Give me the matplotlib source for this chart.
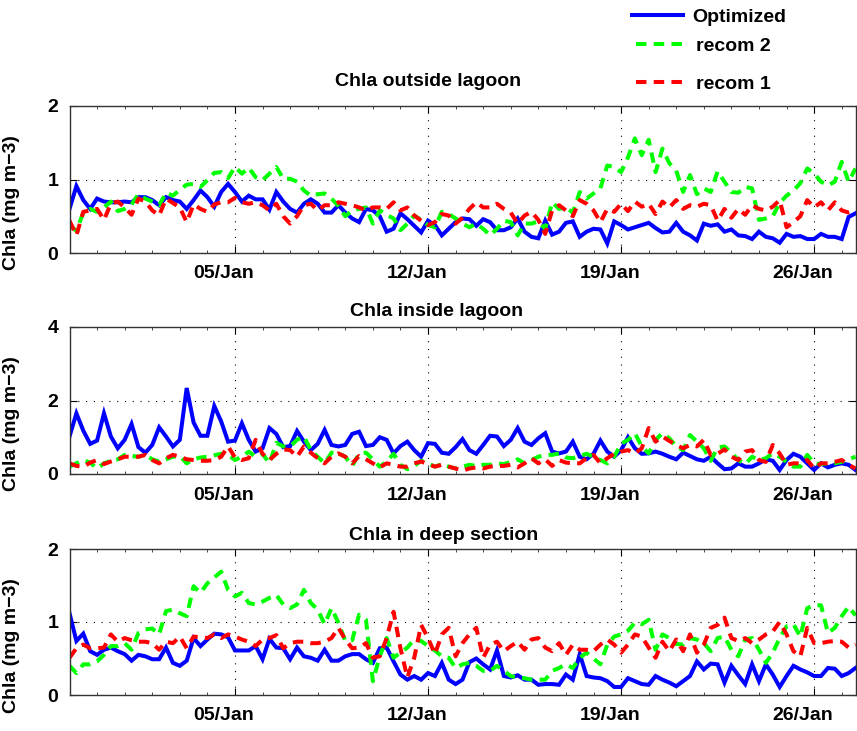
import matplotlib
matplotlib.use('Agg')

import matplotlib.pyplot as plt
import matplotlib.dates as mdates
import matplotlib.transforms as mtransforms
import pandas as pd

# 6-hourly model output, 30/Dec to 27/Jan
times = pd.date_range("2013-12-30", periods=115, freq="6h")

# ---- Chla outside lagoon ----
outside_opt = [0.60, 0.91, 0.72, 0.60, 0.74, 0.70, 0.69, 0.69, 0.70, 0.69,
               0.76, 0.76, 0.72, 0.65, 0.76, 0.72, 0.70, 0.60, 0.72, 0.85,
               0.76, 0.63, 0.83, 0.94, 0.83, 0.70, 0.78, 0.73, 0.73, 0.59,
               0.83, 0.70, 0.60, 0.55, 0.67, 0.73, 0.67, 0.55, 0.55, 0.65,
               0.55, 0.47, 0.42, 0.60, 0.58, 0.50, 0.29, 0.33, 0.54, 0.46,
               0.37, 0.28, 0.44, 0.38, 0.24, 0.33, 0.42,
               0.47, 0.46, 0.37, 0.46, 0.42, 0.31, 0.31, 0.35, 0.47, 0.29,
               0.22, 0.20, 0.44, 0.25, 0.29, 0.41, 0.43, 0.22, 0.29, 0.33,
               0.32, 0.13, 0.43, 0.38, 0.32, 0.35, 0.38, 0.41, 0.34, 0.28,
               0.29, 0.41, 0.29, 0.24, 0.17, 0.40, 0.37, 0.39, 0.29, 0.32,
               0.24, 0.23, 0.19, 0.29, 0.22, 0.20, 0.14, 0.26, 0.22, 0.23,
               0.19, 0.19, 0.26, 0.22, 0.22, 0.19, 0.49, 0.54]
outside_rec2 = [0.38, 0.30, 0.55, 0.60, 0.56, 0.62, 0.70, 0.57, 0.60, 0.66,
                0.80, 0.74, 0.70, 0.65, 0.82, 0.78, 0.86, 0.93, 0.94, 0.90,
                0.99, 1.09, 1.10, 1.02, 1.17, 1.08, 1.16, 1.03, 0.99, 1.08,
                1.17, 1.01, 1.01, 0.97, 0.85, 0.78, 0.80, 0.81, 0.74, 0.64,
                0.50, 0.58, 0.60, 0.62, 0.40, 0.58, 0.52, 0.47, 0.31, 0.40,
                0.51, 0.45, 0.38, 0.35, 0.56, 0.53, 0.47,
                0.40, 0.35, 0.40, 0.33, 0.24, 0.33, 0.44, 0.42, 0.24, 0.40,
                0.40, 0.43, 0.33, 0.69, 0.60, 0.62, 0.55, 0.83, 0.74, 0.81,
                0.88, 1.19, 1.17, 1.10, 1.30, 1.56, 1.33, 1.54, 1.10, 1.42,
                1.22, 1.12, 0.83, 1.06, 0.80, 0.88, 0.83, 1.11, 0.97, 0.83,
                0.82, 0.90, 0.88, 0.45, 0.47, 0.50, 0.68, 0.78, 0.85, 0.95,
                1.15, 1.08, 0.97, 0.92, 0.97, 1.24, 0.97, 1.15]
outside_rec1 = [0.44, 0.24, 0.56, 0.58, 0.60, 0.45, 0.67, 0.70, 0.62, 0.52,
                0.74, 0.70, 0.58, 0.51, 0.74, 0.68, 0.62, 0.42, 0.66, 0.60,
                0.56, 0.66, 0.69, 0.69, 0.75, 0.69, 0.67, 0.69, 0.65, 0.58,
                0.67, 0.50, 0.40, 0.50, 0.65, 0.67, 0.58, 0.65, 0.65, 0.69,
                0.67, 0.65, 0.62, 0.58, 0.62, 0.62, 0.60, 0.69, 0.58, 0.62,
                0.51, 0.44, 0.38, 0.42, 0.53, 0.51, 0.40,
                0.48, 0.60, 0.69, 0.62, 0.62, 0.67, 0.60, 0.55, 0.40, 0.51,
                0.56, 0.45, 0.26, 0.58, 0.65, 0.58, 0.50, 0.72, 0.67, 0.58,
                0.42, 0.60, 0.56, 0.67, 0.57, 0.70, 0.63, 0.67, 0.53, 0.70,
                0.62, 0.72, 0.60, 0.65, 0.63, 0.67, 0.65, 0.44, 0.60, 0.48,
                0.60, 0.52, 0.65, 0.60, 0.58, 0.63, 0.72, 0.35, 0.42, 0.50,
                0.72, 0.62, 0.69, 0.58, 0.69, 0.58, 0.55, 0.58]

# ---- Chla inside lagoon ----
inside_opt = [1.02, 1.65, 1.18, 0.82, 0.91, 1.65, 1.02, 0.70, 0.93, 1.36,
              0.73, 0.58, 0.79, 1.27, 1.02, 0.75, 0.93, 2.34, 1.40, 1.04,
              1.04, 1.85, 1.43, 0.88, 0.91, 1.38, 0.93, 0.61, 0.70, 1.25,
              1.09, 0.73, 0.76, 1.17, 0.88, 0.65, 0.82, 1.20, 0.79, 0.75,
              0.79, 1.09, 1.15, 0.76, 0.79, 1.00, 0.93, 0.56, 0.76, 0.88,
              0.65, 0.47, 0.84, 0.82, 0.58, 0.55, 0.73,
              0.95, 0.65, 0.55, 0.79, 1.04, 1.02, 0.76, 0.93, 1.25, 0.88,
              0.79, 0.97, 1.11, 0.61, 0.56, 0.61, 0.88, 0.47, 0.40, 0.55,
              0.91, 0.61, 0.47, 0.65, 1.00, 0.70, 0.55, 0.56, 0.61, 0.55,
              0.47, 0.40, 0.58, 0.49, 0.40, 0.36, 0.47, 0.29, 0.13, 0.15,
              0.29, 0.20, 0.20, 0.29, 0.40, 0.36, 0.11, 0.38, 0.55, 0.47,
              0.29, 0.11, 0.29, 0.18, 0.25, 0.29, 0.25, 0.11]
inside_rec2 = [0.20, 0.29, 0.38, 0.31, 0.15, 0.29, 0.36, 0.40, 0.52, 0.49,
               0.47, 0.52, 0.40, 0.34, 0.40, 0.47, 0.49, 0.29, 0.40, 0.45,
               0.47, 0.51, 0.55, 0.52, 0.38, 0.47, 0.61, 0.47, 0.55, 0.29,
               0.85, 0.75, 0.75, 0.93, 1.02, 0.65, 0.47, 0.29, 0.58, 0.56,
               0.47, 0.22, 0.55, 0.58, 0.40, 0.20, 0.34, 0.55, 0.25, 0.13,
               0.22, 0.36, 0.29, 0.20, 0.27, 0.20, 0.15,
               0.20, 0.25, 0.22, 0.25, 0.25, 0.29, 0.27, 0.33, 0.40, 0.29,
               0.38, 0.47, 0.52, 0.52, 0.56, 0.45, 0.43, 0.49, 0.55, 0.47,
               0.38, 0.29, 0.47, 0.82, 0.93, 1.11, 0.75, 0.56, 0.93, 1.11,
               0.97, 0.75, 0.65, 1.06, 0.88, 0.70, 0.36, 0.72, 0.75, 0.58,
               0.38, 0.27, 0.47, 0.38, 0.43, 0.56, 0.47, 0.33, 0.20, 0.20,
               0.52, 0.29, 0.27, 0.29, 0.29, 0.33, 0.40, 0.47]
inside_rec1 = [0.29, 0.22, 0.20, 0.31, 0.38, 0.27, 0.34, 0.40, 0.47, 0.47,
               0.47, 0.52, 0.38, 0.29, 0.43, 0.52, 0.47, 0.40, 0.38, 0.36,
               0.36, 0.38, 0.47, 0.75, 0.45, 0.38, 0.43, 0.93, 0.55, 0.38,
               0.55, 0.67, 0.65, 0.47, 0.75, 0.58, 0.43, 0.29, 0.47, 0.56,
               0.47, 0.29, 0.49, 0.40, 0.29, 0.18, 0.29, 0.25, 0.20, 0.20,
               0.29, 0.34, 0.27, 0.20, 0.25, 0.20, 0.15,
               0.09, 0.15, 0.18, 0.15, 0.20, 0.22, 0.22, 0.25, 0.18, 0.29,
               0.43, 0.29, 0.40, 0.22, 0.38, 0.31, 0.29, 0.29, 0.43, 0.52,
               0.29, 0.43, 0.55, 0.61, 0.65, 0.56, 0.70, 1.25, 0.88, 1.02,
               0.90, 0.79, 0.70, 0.79, 0.75, 0.93, 0.52, 0.55, 0.67, 0.47,
               0.38, 0.61, 0.65, 0.38, 0.33, 0.79, 0.56, 0.25, 0.29, 0.29,
               0.38, 0.15, 0.29, 0.29, 0.33, 0.38, 0.25, 0.15]

# ---- Chla in deep section ----
deep_opt = [1.12, 0.74, 0.84, 0.60, 0.55, 0.62, 0.65, 0.60, 0.56, 0.47,
            0.55, 0.53, 0.49, 0.49, 0.65, 0.44, 0.40, 0.47, 0.78, 0.67,
            0.76, 0.84, 0.83, 0.79, 0.61, 0.61, 0.61, 0.67, 0.49, 0.77,
            0.65, 0.64, 0.49, 0.65, 0.53, 0.51, 0.47, 0.62, 0.47, 0.47,
            0.53, 0.56, 0.56, 0.49, 0.44, 0.64, 0.65, 0.46, 0.28, 0.21,
            0.26, 0.21, 0.30, 0.26, 0.44, 0.21, 0.15,
            0.21, 0.45, 0.50, 0.42, 0.35, 0.61, 0.26, 0.24, 0.27, 0.21,
            0.21, 0.14, 0.15, 0.15, 0.14, 0.28, 0.21, 0.56, 0.26, 0.24,
            0.23, 0.19, 0.11, 0.11, 0.23, 0.19, 0.15, 0.14, 0.26, 0.21,
            0.17, 0.12, 0.19, 0.26, 0.46, 0.35, 0.43, 0.42, 0.17, 0.40,
            0.27, 0.15, 0.42, 0.19, 0.42, 0.28, 0.11, 0.26, 0.40, 0.35,
            0.31, 0.26, 0.26, 0.37, 0.36, 0.26, 0.30, 0.37]
deep_rec2 = [0.40, 0.30, 0.42, 0.42, 0.46, 0.55, 0.67, 0.67, 0.71, 0.62,
             0.85, 0.90, 0.91, 0.83, 1.15, 1.17, 1.12, 1.08, 1.49, 1.40,
             1.53, 1.61, 1.69, 1.44, 1.35, 1.40, 1.26, 1.24, 1.28, 1.33,
             1.37, 1.24, 1.19, 1.24, 1.44, 1.26, 1.17, 0.97, 1.19, 0.99,
             0.74, 0.75, 1.10, 1.03, 0.19, 0.53, 0.78, 0.51, 0.58, 0.65,
             0.76, 0.74, 0.67, 0.61, 0.53, 0.51, 0.37,
             0.42, 0.44, 0.40, 0.33, 0.33, 0.40, 0.33, 0.26, 0.24, 0.23,
             0.21, 0.21, 0.21, 0.33, 0.37, 0.42, 0.37, 0.51, 0.58, 0.50,
             0.42, 0.69, 0.80, 0.83, 0.88, 0.99, 0.97, 1.03, 0.62, 0.83,
             0.78, 0.70, 0.69, 0.78, 0.76, 0.71, 0.60, 0.78, 0.80, 0.62,
             0.53, 0.76, 0.78, 0.62, 0.44, 0.58, 0.78, 0.94, 0.97, 0.80,
             1.19, 1.23, 1.23, 0.85, 0.92, 1.08, 1.21, 1.09]
deep_rec1 = [0.51, 0.64, 0.69, 0.64, 0.64, 0.65, 0.83, 0.73, 0.78, 0.75,
             0.73, 0.73, 0.71, 0.62, 0.73, 0.71, 0.80, 0.64, 0.80, 0.79,
             0.78, 0.83, 0.78, 0.83, 0.80, 0.76, 0.73, 0.67, 0.76, 0.78,
             0.82, 0.64, 0.71, 0.73, 0.73, 0.71, 0.71, 0.73, 0.78, 0.92,
             0.76, 0.64, 0.65, 0.71, 0.51, 0.53, 0.78, 1.14, 0.64, 0.24,
             0.51, 0.96, 0.78, 0.56, 0.83, 0.92, 0.53,
             0.71, 0.83, 0.92, 0.51, 0.69, 0.73, 0.60, 0.67, 0.73, 0.62,
             0.76, 0.78, 0.65, 0.60, 0.71, 0.55, 0.69, 0.62, 0.62, 0.60,
             0.69, 0.76, 0.69, 0.58, 0.69, 0.83, 0.80, 0.65, 0.51, 0.73,
             0.60, 0.76, 0.60, 0.83, 0.58, 0.69, 0.92, 0.96, 1.06, 0.78,
             0.74, 0.78, 0.71, 0.76, 0.83, 0.87, 1.00, 0.83, 0.60, 0.53,
             0.92, 0.71, 0.71, 0.73, 0.74, 0.73, 0.65, 0.69]

titles = ["Chla outside lagoon", "Chla inside lagoon", "Chla in deep section"]
title_x = [428, 437, 444]     # centre of each title, pixels
title_y = [82, 311, 535]
ymax = [2, 4, 2]
yticks = [[0, 1, 2], [0, 2, 4], [0, 1, 2]]

plt.rcParams['font.family'] = ['Liberation Sans', 'DejaVu Sans']
plt.rcParams['font.weight'] = 'bold'
plt.rcParams['font.size'] = 14

W, H = 857, 731
fig = plt.figure(figsize=(W / 100, H / 100), dpi=100)

# axes boxes in pixels: (top, bottom)
boxes = [(106, 253), (327, 474), (549, 695)]
left_px, right_px = 69.5, 855.5

panels = [
    (outside_opt, outside_rec2, outside_rec1),
    (inside_opt, inside_rec2, inside_rec1),
    (deep_opt, deep_rec2, deep_rec1),
]

label_shift = mtransforms.ScaledTranslation(-11 / 100, 0, fig.dpi_scale_trans)
handles = None

for i, (opt, rec2, rec1) in enumerate(panels):
    top, bot = boxes[i]
    ax = fig.add_axes([left_px / W, 1 - bot / H, (right_px - left_px) / W, (bot - top) / H])

    l_opt, = ax.plot(times, opt, color=(0, 0, 1), lw=2.9, solid_joinstyle='miter')
    l_r2, = ax.plot(times, rec2, color=(0, 1, 0), lw=2.9, dashes=(2.6, 1.8))
    l_r1, = ax.plot(times, rec1, color=(1, 0, 0), lw=2.9, dashes=(2.6, 1.8))
    if handles is None:
        handles = [l_opt, l_r2, l_r1]

    ax.set_xlim(times[0], times[-1])
    ax.set_ylim(0, ymax[i])
    ax.set_yticks(yticks[i])

    ax.xaxis.set_major_locator(mdates.DayLocator(bymonthday=[5, 12, 19, 26]))
    ax.xaxis.set_minor_locator(mdates.DayLocator())
    ax.xaxis.set_major_formatter(mdates.DateFormatter('%d/%b'))

    ax.grid(True, which='major', color='black', lw=0.8, linestyle=(0, (1, 6)))
    ax.tick_params(which='major', direction='in', length=5, width=0.8,
                   top=True, right=True, pad=9, labelsize=14)
    ax.tick_params(which='minor', direction='in', length=2, width=0.5,
                   top=True, right=False)
    ax.tick_params(axis='y', pad=8)
    for sp in ax.spines.values():
        sp.set_linewidth(1.0)
        sp.set_color('#333333')

    for lab in ax.get_xticklabels():
        lab.set_transform(lab.get_transform() + label_shift)

    ax.set_ylabel("Chla (mg m\u22123)", fontsize=14, fontweight='bold')
    ax.yaxis.set_label_coords(-0.063, 0.34)

    fig.text(title_x[i] / W, 1 - title_y[i] / H, titles[i], ha='center',
             va='center', fontsize=14, fontweight='bold')

# legend entries are spaced unevenly in the original, one legend per entry
legend_rows = [("Optimized", 0, 632, 17), ("recom 2", 1, 636, 46), ("recom 1", 2, 636, 84)]
for text, idx, x_px, y_px in legend_rows:
    fig.legend(handles=[handles[idx]], labels=[text], loc='center left',
               bbox_to_anchor=(x_px / W, 1 - y_px / H), frameon=False,
               borderpad=0, borderaxespad=0, handlelength=2.6,
               handletextpad=0.5, fontsize=14)

plt.savefig("out.png", dpi=100)
